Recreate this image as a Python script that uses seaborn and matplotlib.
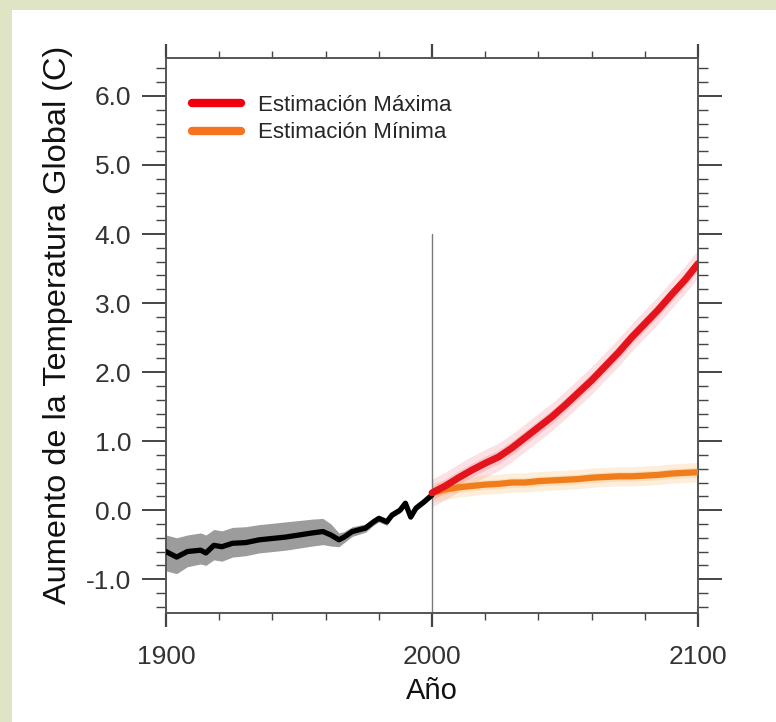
import numpy as np
import pandas as pd
import matplotlib
matplotlib.use("Agg")
import matplotlib.pyplot as plt
from matplotlib.patches import Rectangle
from matplotlib.ticker import MultipleLocator, FixedLocator
import seaborn as sns

# ---------------- data ----------------
hist_years = [1900, 1904, 1908, 1913, 1915, 1918, 1921, 1925, 1930, 1935, 1940, 1945,
              1950, 1955, 1959, 1962, 1965, 1967, 1970, 1975, 1978, 1980, 1983, 1985,
              1988, 1990, 1992, 1994, 1997, 2000]
hist_temp = [-0.60, -0.68, -0.60, -0.58, -0.62, -0.51, -0.53, -0.48, -0.47, -0.43, -0.41, -0.39,
             -0.36, -0.33, -0.31, -0.36, -0.43, -0.39, -0.31, -0.26, -0.17, -0.12, -0.17, -0.07,
             0.00, 0.10, -0.10, 0.03, 0.12, 0.22]
hist_upper = [-0.36, -0.40, -0.36, -0.33, -0.36, -0.28, -0.30, -0.25, -0.24, -0.21, -0.19, -0.17,
              -0.15, -0.13, -0.12, -0.20, -0.33, -0.31, -0.24, -0.20, -0.12, -0.07, -0.12, -0.03,
              0.04, 0.14, -0.06, 0.07, 0.16, 0.26]
hist_lower = [-0.88, -0.92, -0.82, -0.78, -0.80, -0.72, -0.74, -0.68, -0.66, -0.62, -0.60, -0.58,
              -0.55, -0.52, -0.50, -0.52, -0.53, -0.47, -0.38, -0.32, -0.22, -0.17, -0.22, -0.11,
              -0.04, 0.06, -0.14, -0.01, 0.08, 0.18]

proj_years = [2000, 2005, 2010, 2015, 2020, 2025, 2030, 2035, 2040, 2045, 2050,
              2055, 2060, 2065, 2070, 2075, 2080, 2085, 2090, 2095, 2100]
max_temp = [0.25, 0.35, 0.47, 0.58, 0.68, 0.77, 0.90, 1.05, 1.20, 1.35, 1.52,
            1.70, 1.88, 2.08, 2.28, 2.50, 2.70, 2.90, 3.12, 3.33, 3.57]
min_temp = [0.25, 0.30, 0.33, 0.35, 0.37, 0.38, 0.40, 0.40, 0.42, 0.43, 0.44,
            0.45, 0.47, 0.48, 0.49, 0.49, 0.50, 0.51, 0.53, 0.54, 0.55]
max_spread = 0.2
min_spread = 0.14

series_labels = ["Estimación Máxima", "Estimación Mínima"]
x_ticks = [1900, 2000, 2100]
y_ticks = [-1.0, 0.0, 1.0, 2.0, 3.0, 4.0, 5.0, 6.0]

# ---------------- style ----------------
sns.set_style("white")
plt.rcParams['font.family'] = ['Liberation Sans', 'DejaVu Sans']

fig = plt.figure(figsize=(7.76, 7.22), dpi=100)
fig.patch.set_facecolor("#dee4c4")
bg = Rectangle((12 / 776, 0), 1, (722 - 10) / 722, transform=fig.transFigure,
               facecolor="white", edgecolor="none", zorder=-10)
fig.add_artist(bg)

ax = fig.add_axes([166 / 776, 1 - 613 / 722, (698 - 166) / 776, (613 - 58) / 722])
ax.set_zorder(5)
ax.set_facecolor("white")

hist = pd.DataFrame({"year": hist_years, "temp": hist_temp})
proj = pd.DataFrame({"year": proj_years, "max": max_temp, "min": min_temp})

# historical band + line
ax.fill_between(hist_years, hist_lower, hist_upper, color="#9c9c9c", lw=0, zorder=1)
sns.lineplot(data=hist, x="year", y="temp", color="black", lw=3.8, ax=ax, zorder=3)

# projection halos
mx = np.array(max_temp); mn = np.array(min_temp)
ax.fill_between(proj_years, mx - max_spread, mx + max_spread, color="#f26a7a", alpha=0.2, lw=0, zorder=1)
ax.fill_between(proj_years, mx - max_spread / 2, mx + max_spread / 2, color="#f04a5a", alpha=0.2, lw=0, zorder=1)
ax.fill_between(proj_years, mn - min_spread, mn + min_spread, color="#f5b45a", alpha=0.22, lw=0, zorder=1)
ax.fill_between(proj_years, mn - min_spread / 2, mn + min_spread / 2, color="#f5a040", alpha=0.2, lw=0, zorder=1)

sns.lineplot(data=proj, x="year", y="min", color="#ef7d1c", lw=4.5, ax=ax, zorder=4,
             label=series_labels[1])
sns.lineplot(data=proj, x="year", y="max", color="#e3141c", lw=5.0, ax=ax, zorder=5,
             label=series_labels[0])

# vertical reference line at 2000
ax.plot([2000, 2000], [-1.49, 4.0], color="#7a7a7a", lw=1.0, zorder=2)

ax.set_xlim(1900, 2100)
ax.set_ylim(-1.49, 6.55)

ax.xaxis.set_major_locator(FixedLocator(x_ticks))
ax.xaxis.set_minor_locator(MultipleLocator(20))
ax.yaxis.set_major_locator(FixedLocator(y_ticks))
ax.yaxis.set_minor_locator(MultipleLocator(0.2))
ax.set_yticklabels([f"{v:.1f}" for v in y_ticks])
ax.set_xticklabels([str(v) for v in x_ticks])

ax.tick_params(which="both", direction="out", top=True, right=True, left=True, bottom=True,
               labeltop=False, labelright=False, labelleft=True, labelbottom=True, color="#444444")
ax.tick_params(axis="y", which="major", length=17, width=1.4, pad=8, labelsize=19, labelcolor="#333333")
ax.tick_params(axis="y", which="minor", length=7, width=1.0)
ax.tick_params(axis="x", which="major", length=10, width=1.6, pad=13, labelsize=19, labelcolor="#333333")
ax.tick_params(axis="x", which="minor", length=5, width=1.0)

for s in ax.spines.values():
    s.set_color("#555555")
    s.set_linewidth(1.4)

ax.set_xlabel("Año", fontsize=21, color="#111111", labelpad=6)
ax.set_ylabel("Aumento de la Temperatura Global (C)", fontsize=23.4, color="#111111")
ax.yaxis.set_label_coords(-0.175, 0.52)

handles, labels = ax.get_legend_handles_labels()
order = [labels.index(series_labels[0]), labels.index(series_labels[1])]
leg = ax.legend([handles[i] for i in order], [labels[i] for i in order],
                loc="upper left", bbox_to_anchor=(0.049, 0.933), frameon=False,
                borderpad=0, borderaxespad=0, fontsize=16, handlelength=2.2,
                handletextpad=0.75, labelspacing=0.28)
leg.get_lines()[0].set_color("#f0000f")
leg.get_lines()[0].set_linewidth(6)
leg.get_lines()[1].set_color("#f47420")
leg.get_lines()[1].set_linewidth(6)

fig.savefig("out.png", dpi=100, facecolor=fig.get_facecolor())
